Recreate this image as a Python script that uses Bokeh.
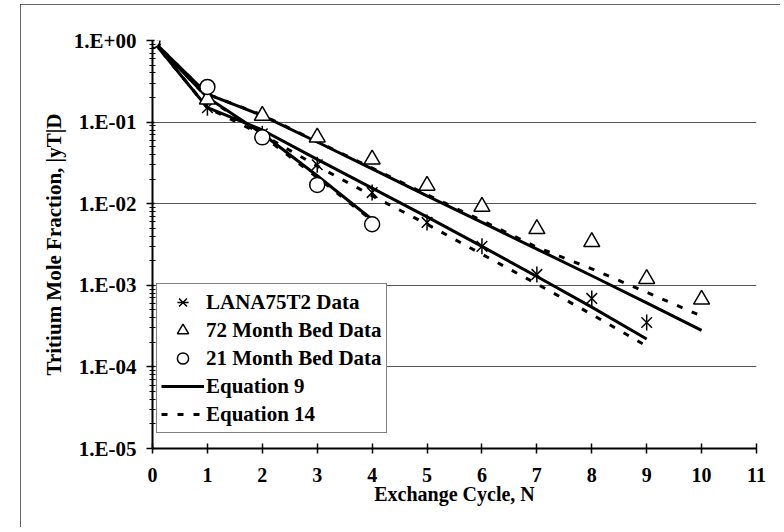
import math
from bokeh.plotting import figure
from bokeh.models import (Range1d, FixedTicker, CustomJSTickFormatter, Legend,
                          LegendItem)
from bokeh.embed import file_html
from bokeh.resources import INLINE

# ---------------- data ----------------
cycles_lana = [0, 1, 2, 3, 4, 5, 6, 7, 8, 9]
lana_data = [1.0, 0.15, 0.072, 0.030, 0.0137, 0.0059, 0.0030, 0.00136, 0.00069, 0.00035]
cycles_72 = [0, 1, 2, 3, 4, 5, 6, 7, 8, 9, 10]
bed72_data = [1.0, 0.19, 0.12, 0.065, 0.035, 0.0167, 0.0092, 0.0049, 0.0034, 0.0012, 0.00067]
cycles_21 = [0, 1, 2, 3, 4]
bed21_data = [1.0, 0.27, 0.065, 0.017, 0.0056]

eq9_lana = [1.0, 0.15, 0.08, 0.035, 0.0155, 0.0069, 0.0030, 0.00128, 0.00054, 0.00022]
eq9_72 = [1.0, 0.22, 0.12, 0.057, 0.0267, 0.0125, 0.0059, 0.00278, 0.00131, 0.00061, 0.00028]
eq9_21 = [1.0, 0.2, 0.072, 0.022, 0.0064]
eq14_lana = [1.0, 0.15, 0.07, 0.029, 0.0125, 0.0056, 0.0024, 0.00104, 0.00044, 0.00018]
eq14_72 = [1.0, 0.22, 0.122, 0.0576, 0.0273, 0.0129, 0.0062, 0.00293, 0.00159, 0.00082, 0.00042]
eq14_21 = [1.0, 0.2, 0.068, 0.021, 0.0062]

x_ticks = [0, 1, 2, 3, 4, 5, 6, 7, 8, 9, 10, 11]
y_ticks = [1e-5, 1e-4, 1e-3, 1e-2, 1e-1, 1.0]
y_minor = [m * 10.0 ** e for e in range(-5, 0) for m in range(2, 10)]

legend_labels = ["LANA75T2 Data", "72 Month Bed Data", "21 Month Bed Data",
                 "Equation 9", "Equation 14"]
x_title = "Exchange Cycle, N"
y_title = "Tritium Mole Fraction, |yT|D"

FONT = "Liberation Serif"

p = figure(width=760, height=523, output_backend="svg", toolbar_location=None,
           y_axis_type="log", x_range=Range1d(0, 11), y_range=Range1d(1e-5, 1.0),
           min_border_left=132, min_border_right=24, min_border_top=36,
           min_border_bottom=79)
p.margin = (4, 0, 0, 20)
p.styles = {"outline": "2px solid #333333", "outline-offset": "-2px"}
p.outline_line_color = None
p.background_fill_color = "white"
p.border_fill_color = "white"

# axes
p.xaxis.ticker = FixedTicker(ticks=x_ticks)
p.xaxis.minor_tick_line_color = None
p.xaxis.major_tick_in = 5
p.xaxis.major_tick_out = 5
p.xaxis.axis_line_width = 2
p.xaxis.major_tick_line_width = 1.5
p.xaxis.major_label_text_font = FONT
p.xaxis.major_label_text_font_style = "bold"
p.xaxis.major_label_text_font_size = "20px"
p.xaxis.major_label_text_color = "black"
p.xaxis.major_label_standoff = 14
p.xaxis.axis_label = x_title
p.xaxis.axis_label_text_font = FONT
p.xaxis.axis_label_text_font_style = "bold"
p.xaxis.axis_label_text_font_size = "20px"
p.xaxis.axis_label_text_color = "black"
p.xaxis.axis_label_standoff = -2

p.yaxis.ticker = FixedTicker(ticks=y_ticks, minor_ticks=y_minor)
p.yaxis.formatter = CustomJSTickFormatter(code="""
const e = Math.round(Math.log10(tick));
return "1.E" + (e < 0 ? "-" : "+") + String(Math.abs(e)).padStart(2, "0");
""")
p.yaxis.major_tick_in = 2
p.yaxis.major_tick_out = 6
p.yaxis.minor_tick_in = 3
p.yaxis.minor_tick_out = 3
p.yaxis.axis_line_width = 2
p.yaxis.major_tick_line_width = 1.5
p.yaxis.major_label_text_font = FONT
p.yaxis.major_label_text_font_style = "bold"
p.yaxis.major_label_text_font_size = "21px"
p.yaxis.major_label_text_color = "black"
p.yaxis.major_label_standoff = 10
p.yaxis.axis_label = y_title
p.yaxis.axis_label_text_font = FONT
p.yaxis.axis_label_text_font_style = "bold"
p.yaxis.axis_label_text_font_size = "21px"
p.yaxis.axis_label_text_color = "black"
p.yaxis.axis_label_standoff = 5

p.xgrid.grid_line_color = None
p.ygrid.ticker = FixedTicker(ticks=y_ticks)
p.ygrid.grid_line_color = "#555555"
p.ygrid.grid_line_width = 1

# lines
LW = 3
DASH = "6 10"
r9a = p.line(cycles_72, eq9_72, line_color="black", line_width=LW)
p.line(cycles_lana, eq9_lana, line_color="black", line_width=LW)
p.line(cycles_21, eq9_21, line_color="black", line_width=LW)
r14a = p.line(cycles_72, eq14_72, line_color="black", line_width=LW, line_dash=DASH)
p.line(cycles_lana, eq14_lana, line_color="black", line_width=LW, line_dash=DASH)
p.line(cycles_21, eq14_21, line_color="black", line_width=LW, line_dash=DASH)

# markers
rl1 = p.scatter(cycles_lana, lana_data, marker="x", size=15, line_color="black", line_width=1.5)
rl2 = p.scatter(cycles_lana, lana_data, marker="dash", angle=math.pi / 2, size=16,
                line_color="black", line_width=1.5)
rt = p.scatter(cycles_72, bed72_data, marker="triangle", size=16, line_color="black",
               fill_color="white", line_width=1.5)
rc = p.scatter(cycles_21, bed21_data, marker="circle", size=15, line_color="black",
               fill_color="white", line_width=1.5)

legend = Legend(items=[
    LegendItem(label=legend_labels[0], renderers=[rl1, rl2]),
    LegendItem(label=legend_labels[1], renderers=[rt]),
    LegendItem(label=legend_labels[2], renderers=[rc]),
    LegendItem(label=legend_labels[3], renderers=[r9a]),
    LegendItem(label=legend_labels[4], renderers=[r14a]),
], location=(4, 15))
legend.label_text_font = FONT
legend.label_text_font_style = "bold"
legend.label_text_font_size = "21px"
legend.label_text_color = "black"
legend.glyph_width = 43
legend.glyph_height = 28
legend.label_height = 28
legend.label_standoff = 2
legend.spacing = 0
legend.padding = 4
legend.margin = 0
legend.border_line_color = "black"
legend.border_line_width = 1.5
legend.background_fill_color = "white"
legend.background_fill_alpha = 1.0
p.add_layout(legend, "center")

open("out.html", "w").write(file_html(p, INLINE))
